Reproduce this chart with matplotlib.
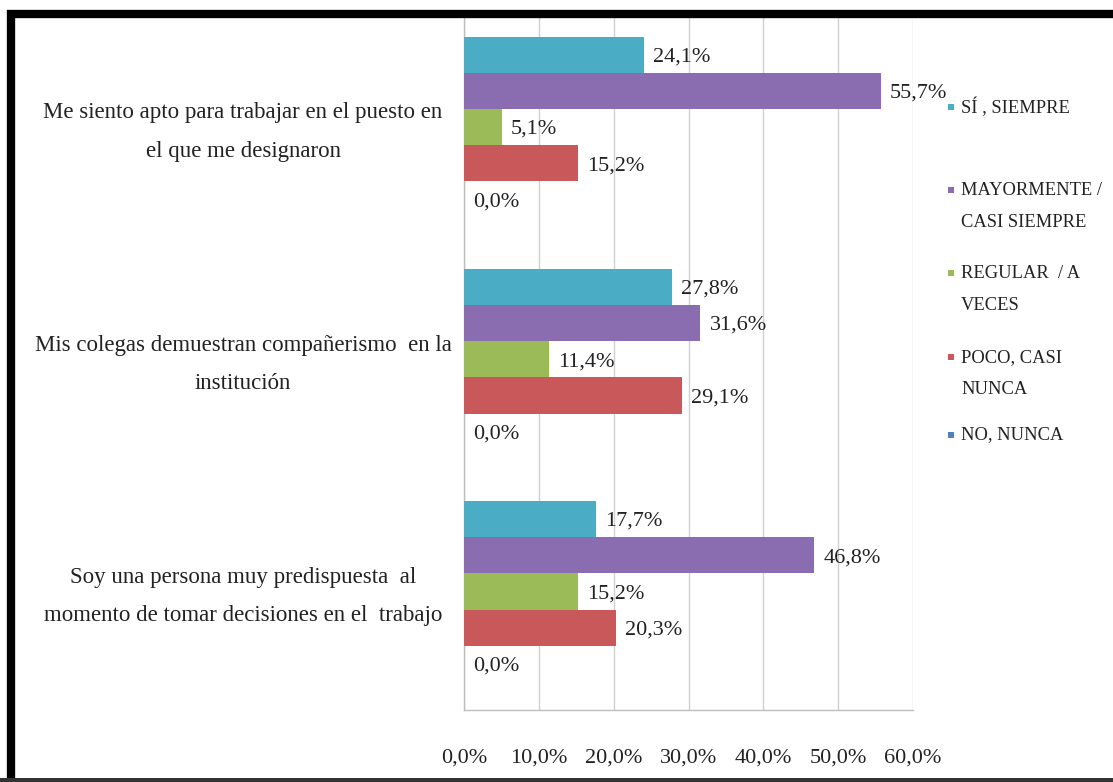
import matplotlib
matplotlib.use("Agg")
import matplotlib.pyplot as plt
from matplotlib.patches import Rectangle
import numpy as np

plt.rcParams["font.family"] = ["Liberation Serif", "DejaVu Serif"]

# Survey items (top to bottom)
categories = [
    "Me siento apto para trabajar en el puesto en\nel que me designaron",
    "Mis colegas demuestran compañerismo  en la\ninstitución",
    "Soy una persona muy predispuesta  al\nmomento de tomar decisiones en el  trabajo",
]

# Response options (legend order)
series_names = [
    "SÍ , SIEMPRE",
    "MAYORMENTE /\nCASI SIEMPRE",
    "REGULAR  / A\nVECES",
    "POCO, CASI\nNUNCA",
    "NO, NUNCA",
]

# Percentages per response option, one value per survey item
si_siempre = [24.1, 27.8, 17.7]
mayormente = [55.7, 31.6, 46.8]
regular = [5.1, 11.4, 15.2]
poco = [15.2, 29.1, 20.3]
no_nunca = [0.0, 0.0, 0.0]

x_ticks = [0, 10, 20, 30, 40, 50, 60]
x_tick_labels = ["0,0%", "10,0%", "20,0%", "30,0%", "40,0%", "50,0%", "60,0%"]

series_values = [si_siempre, mayormente, regular, poco, no_nunca]
colors = ["#4BACC6", "#8A6DB0", "#9BBB59", "#C9585A", "#4F81BD"]

W, H = 1113, 782
fig = plt.figure(figsize=(W / 100, H / 100), dpi=100)
fig.patch.set_facecolor("white")

ax_left, ax_right = 464, 913
ax_top, ax_bottom = 18, 710
ax = fig.add_axes([ax_left / W, 1 - ax_bottom / H,
                   (ax_right - ax_left) / W, (ax_bottom - ax_top) / H])

bar_h = 0.156
y = np.arange(len(categories))
for i, (vals, col) in enumerate(zip(series_values, colors)):
    pos = y + (i - 2) * bar_h
    ax.barh(pos, vals, height=bar_h, color=col, edgecolor="none", zorder=3)
    for p, v in zip(pos, vals):
        ax.text(v + 1.2, p + 0.01, f"{v:.1f}%".replace(".", ","),
                va="center", ha="left", fontsize=16, color="#222222", zorder=4)

ax.set_xlim(0, 60)
ax.set_ylim(2.51, -0.47)
ax.set_xticks(x_ticks)
ax.set_xticklabels(x_tick_labels, fontsize=16, color="#222222")
ax.tick_params(axis="x", length=0, pad=28)
ax.set_yticks(y)
ax.set_yticklabels([])
ax.tick_params(axis="y", length=0)
ax.grid(axis="x", color="#D0D0D0", linewidth=1.0, zorder=0)
for side in ("top", "right"):
    ax.spines[side].set_visible(False)
for side in ("left", "bottom"):
    ax.spines[side].set_color("#BDBDBD")
    ax.spines[side].set_linewidth(1.0)

# Category labels, centred in the left margin
for yi, label in zip(y, categories):
    yy_disp = ax.transData.transform((0, yi))[1]
    fig.text(243 / W, (yy_disp - 5) / H, label, ha="center", va="center",
             fontsize=16.5, color="#222222", linespacing=2.1)

# Legend built from small squares and text (pixel rows of first lines)
leg_rows = [107, 190, 273, 357, 435]
leg_line = 33
for name, col, ry in zip(series_names, colors, leg_rows):
    n_lines = name.count("\n") + 1
    fig.patches.append(Rectangle((948 / W, 1 - (ry + 3) / H), 6 / W, 6 / H,
                                 transform=fig.transFigure, facecolor=col,
                                 edgecolor="none"))
    cy = ry + (n_lines - 1) * leg_line / 2
    fig.text(961 / W, 1 - cy / H, name, ha="left", va="center",
             fontsize=13.3, color="#222222", linespacing=2.1,
             transform=fig.transFigure)

# Heavy frame around the chart
fig.patches.append(Rectangle((11 / W, -0.01), 1.2, 1 - 14 / H + 0.01,
                             transform=fig.transFigure, fill=False,
                             edgecolor="black", linewidth=6))
fig.patches.append(Rectangle((0, 0), 1, 4 / H, transform=fig.transFigure,
                             facecolor="#333333", edgecolor="none"))

fig.savefig("out.png", dpi=100)
